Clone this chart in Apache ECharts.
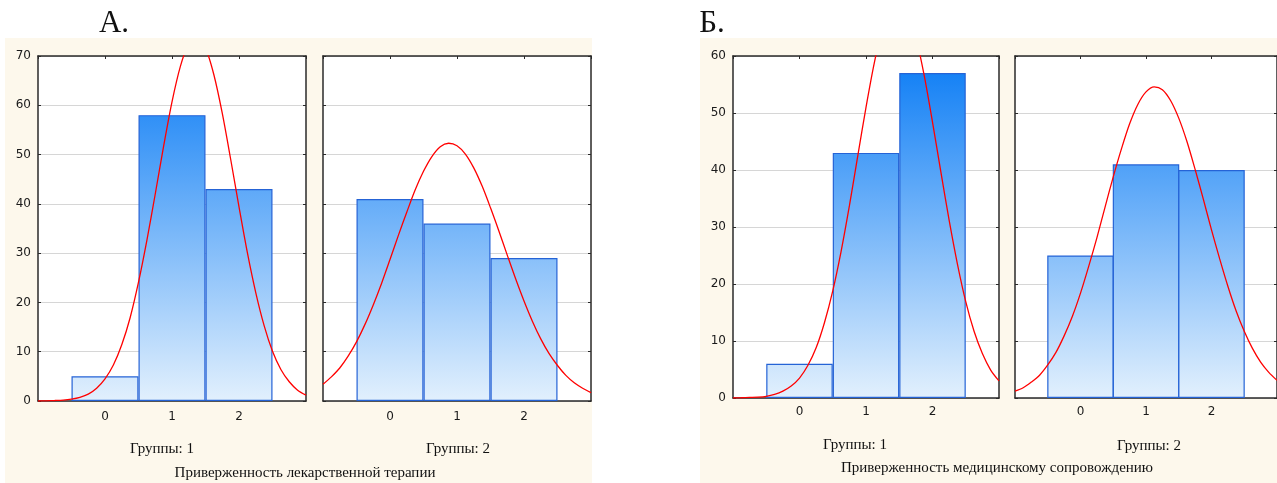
<!DOCTYPE html>
<html>
<head>
	<meta charset="utf-8">
	<title></title>
	<style type="text/css">
		html, body { margin: 0; padding: 0; background: #fff; }
		#main { width: 1277px; height: 483px; }
	</style>
	<script src="https://cdn.jsdelivr.net/npm/echarts@6/dist/echarts.min.js"></script>
</head>
<body>
	<div id="main"></div>
	<script type="text/javascript">
		// histogram bins (centres) and counts
		var bins = [0, 1, 2];
		var countsA1 = [5, 58, 43];
		var countsA2 = [41, 36, 29];
		var countsB1 = [6, 43, 57];
		var countsB2 = [25, 41, 40];

		// red normal curves
		var curveX = [-1, -0.875, -0.75, -0.625, -0.5, -0.375, -0.25, -0.125, 0, 0.125, 0.25, 0.375, 0.5, 0.625, 0.75, 0.875,
			1, 1.125, 1.25, 1.375, 1.5, 1.625, 1.75, 1.875, 2, 2.125, 2.25, 2.375, 2.5, 2.625, 2.75, 2.875, 3];
		var curveA1 = [0.0, 0.04, 0.1, 0.19, 0.4, 0.76, 1.4, 2.6, 4.5, 7.3, 11.4, 16.9, 24.1, 32.6, 42.0, 51.7,
			60.7, 67.9, 72.5, 73.8, 71.6, 66.2, 58.4, 49.1, 39.4, 30.1, 22.0, 15.3, 10.1, 6.4, 3.9, 2.2, 1.2];
		var curveA2 = [3.4, 4.9, 6.7, 9.1, 12.0, 15.5, 19.5, 23.9, 28.7, 33.6, 38.3, 42.8, 46.6, 49.6, 51.6, 52.3,
			51.8, 50.1, 47.3, 43.6, 39.2, 34.5, 29.6, 24.8, 20.3, 16.2, 12.6, 9.6, 7.2, 5.2, 3.7, 2.6, 1.7];
		var curveB1 = [0.0, 0.04, 0.1, 0.16, 0.3, 0.63, 1.2, 2.1, 3.5, 5.7, 8.8, 13.2, 18.8, 25.7, 33.7, 42.4,
			51.0, 58.8, 65.0, 68.8, 69.9, 67.9, 63.3, 56.6, 48.4, 39.7, 31.2, 23.5, 16.9, 11.7, 7.8, 4.9, 3.0];
		var curveB2 = [1.2, 1.8, 2.8, 4.0, 5.8, 8.0, 10.9, 14.3, 18.4, 23.1, 28.1, 33.5, 38.8, 43.7, 48.1, 51.5,
			53.7, 54.6, 54.1, 52.2, 49.1, 45.0, 40.1, 34.9, 29.5, 24.4, 19.6, 15.3, 11.7, 8.7, 6.3, 4.5, 3.1];

		var yMaxA = 70, yMaxB = 60;
		var panelLetters = ['A.', 'Б.'];
		var groupLabels = ['Группы: 1', 'Группы: 2'];
		var panelTitles = ['Приверженность лекарственной терапии', 'Приверженность медицинскому сопровождению'];

		var plots = [
			{ left: 38, top: 56, width: 268, height: 345, max: yMaxA, counts: countsA1, curve: curveA1, labels: true },
			{ left: 323, top: 56, width: 268, height: 345, max: yMaxA, counts: countsA2, curve: curveA2, labels: false },
			{ left: 733, top: 56, width: 266, height: 342, max: yMaxB, counts: countsB1, curve: curveB1, labels: true },
			{ left: 1015, top: 56, width: 266, height: 342, max: yMaxB, counts: countsB2, curve: curveB2, labels: false }
		];

		var axisColor = '#2a2a2a';
		var labelFont = { fontFamily: 'DejaVu Sans', fontSize: 12, color: '#1a1a1a' };

		var chart = echarts.init(document.getElementById('main'));
		var grid = [], xAxis = [], yAxis = [], series = [];

		plots.forEach(function (p, i) {
			grid.push({
				left: p.left, top: p.top, width: p.width, height: p.height,
				show: true, backgroundColor: '#fff', borderWidth: 0
			});
			var lineStyle = { color: axisColor, width: 1.5 };
			var tick = { show: true, inside: true, length: 3, lineStyle: { color: axisColor } };
			xAxis.push({
				type: 'value', gridIndex: i, position: 'bottom', min: -1, max: 3, interval: 1,
				axisLine: { show: true, onZero: false, lineStyle: lineStyle },
				axisTick: tick,
				axisLabel: Object.assign({ margin: i < 2 ? 10 : 8, showMinLabel: false, showMaxLabel: false }, labelFont),
				splitLine: { show: false }
			});
			xAxis.push({
				type: 'value', gridIndex: i, position: 'top', min: -1, max: 3, interval: 1,
				axisLine: { show: true, onZero: false, lineStyle: lineStyle },
				axisTick: tick, axisLabel: { show: false }, splitLine: { show: false }
			});
			yAxis.push({
				type: 'value', gridIndex: i, position: 'left', min: 0, max: p.max, interval: 10,
				axisLine: { show: true, onZero: false, lineStyle: lineStyle },
				axisTick: tick,
				axisLabel: Object.assign({ show: p.labels, margin: 7 }, labelFont),
				splitLine: { show: true, lineStyle: { color: '#d6d6d6', width: 1 } }
			});
			yAxis.push({
				type: 'value', gridIndex: i, position: 'right', min: 0, max: p.max, interval: 10,
				axisLine: { show: true, onZero: false, lineStyle: lineStyle },
				axisTick: tick, axisLabel: { show: false }, splitLine: { show: false }
			});

			var fill = new echarts.graphic.LinearGradient(0, p.top, 0, p.top + p.height, [
				{ offset: 0, color: '#0b7cf5' },
				{ offset: 1, color: '#e2f0fd' }
			], true);

			series.push({
				type: 'bar', xAxisIndex: i * 2, yAxisIndex: i * 2,
				barWidth: p.width / 4,
				data: bins.map(function (b, k) { return [b, p.counts[k]]; }),
				itemStyle: { color: fill, borderColor: '#2563d6', borderWidth: 1.2 },
				z: 2
			});
			series.push({
				type: 'line', xAxisIndex: i * 2, yAxisIndex: i * 2,
				smooth: 0.3, showSymbol: false, clip: true,
				data: curveX.map(function (x, k) { return [x, p.curve[k]]; }),
				lineStyle: { color: '#ff0000', width: 1.3 },
				z: 3
			});
		});

		function txt(text, x, y, size) {
			return {
				type: 'text', x: x, y: y, silent: true,
				style: {
					text: text, fill: '#111', align: 'center', verticalAlign: 'middle',
					font: size + 'px "Liberation Serif"'
				}
			};
		}

		var graphic = [
			{ type: 'rect', silent: true, z: -10, shape: { x: 5, y: 38, width: 587, height: 445 }, style: { fill: '#fdf8ec' } },
			{ type: 'rect', silent: true, z: -10, shape: { x: 700, y: 38, width: 577, height: 445 }, style: { fill: '#fdf8ec' } },
			txt(panelLetters[0], 114, 24, 31),
			txt(panelLetters[1], 712, 24, 31),
			txt(groupLabels[0], 162, 449, 15),
			txt(groupLabels[1], 458, 449, 15),
			txt(panelTitles[0], 305, 473, 15),
			txt(groupLabels[0], 855, 445, 15),
			txt(groupLabels[1], 1149, 446, 15),
			txt(panelTitles[1], 997, 468, 15)
		];

		chart.setOption({
			animation: false,
			backgroundColor: '#fff',
			grid: grid,
			xAxis: xAxis,
			yAxis: yAxis,
			series: series,
			graphic: graphic
		});
	</script>
</body>
</html>
